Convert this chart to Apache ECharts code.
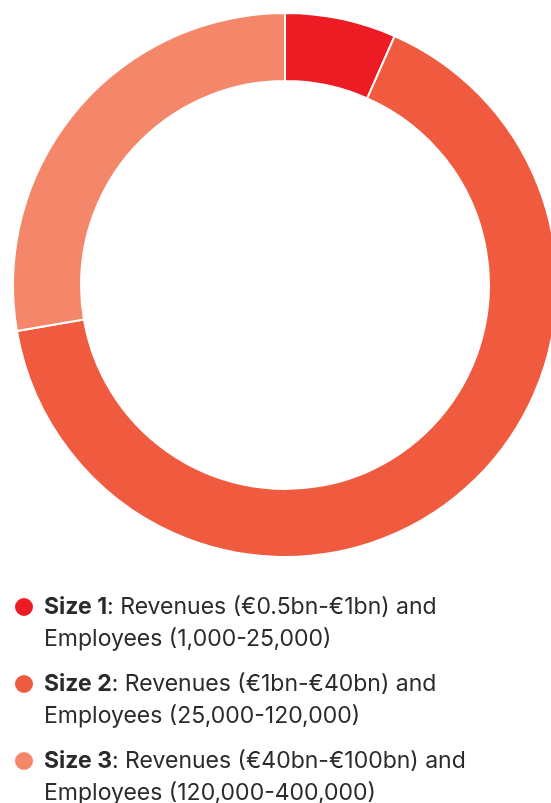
<!DOCTYPE html>
<html>
<head>
<meta charset="utf-8">
<script src="https://cdn.jsdelivr.net/npm/echarts@6/dist/echarts.min.js"></script>
<style>
html,body{margin:0;padding:0;background:#fff;}
#chart{width:551px;height:803px;}
</style>
</head>
<body>
<div id="chart"></div>
<script>
var categories = ['Size 1', 'Size 2', 'Size 3'];
var values = [6.6, 65.7, 27.7];
var descLine1 = ['Revenues (€0.5bn-€1bn) and', 'Revenues (€1bn-€40bn) and', 'Revenues (€40bn-€100bn) and'];
var descLine2 = ['Employees (1,000-25,000)', 'Employees (25,000-120,000)', 'Employees (120,000-400,000)'];
var colors = ['#ED1C24', '#F05A3E', '#F4876A'];

var chart = echarts.init(document.getElementById('chart'), null, {renderer: 'canvas'});
var data = categories.map(function (c, i) {
  return {name: c, value: values[i], itemStyle: {color: colors[i]}};
});
chart.setOption({
  animation: false,
  legend: {
    orient: 'vertical',
    left: 13,
    top: 559,
    height: 400,
    padding: 0,
    icon: 'circle',
    itemWidth: 20,
    itemHeight: 20,
    itemGap: -19,
    selectedMode: false,
    data: categories,
    textStyle: {
      fontFamily: 'Inter',
      fontSize: 23,
      color: '#2b2b2b',
      lineHeight: 32,
      padding: [0, 0, 0, 5],
      rich: {
        b: {fontFamily: 'Inter', fontSize: 23, fontWeight: 'bold', color: '#2b2b2b', lineHeight: 32}
      }
    },
    formatter: function (name) {
      var i = categories.indexOf(name);
      return ' \n{b|' + name + '}: ' + descLine1[i] + '\n' + descLine2[i];
    }
  },
  series: [{
    type: 'pie',
    center: [285, 285],
    radius: [204, 272],
    startAngle: 90,
    clockwise: true,
    label: {show: false},
    labelLine: {show: false},
    emphasis: {disabled: true},
    itemStyle: {borderColor: '#fff', borderWidth: 2},
    data: data
  }]
});
</script>
</body>
</html>
